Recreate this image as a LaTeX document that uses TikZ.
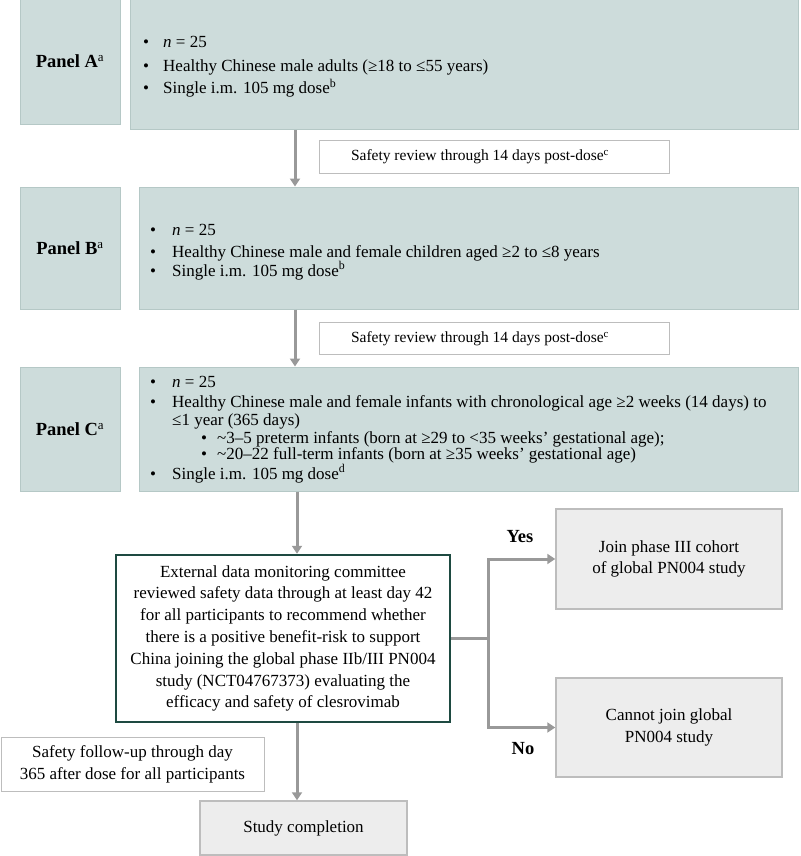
\documentclass[tikz,border=0pt]{standalone}
\usepackage{fontspec}
\setmainfont{Liberation Serif}
\usetikzlibrary{arrows.meta}
\definecolor{panelfill}{HTML}{CDDCDB}
\definecolor{panelline}{HTML}{B5C8C6}
\definecolor{greyfill}{HTML}{EDEDED}
\definecolor{greyline}{HTML}{BDBDBD}
\definecolor{arrowgrey}{HTML}{999999}
\definecolor{dmcline}{HTML}{1E4A41}
\tikzset{
  panel/.style={draw=panelline, fill=panelfill, line width=1pt, inner sep=0pt},
  whitebox/.style={draw=greyline, fill=white, line width=1pt, inner sep=0pt, align=center},
  greybox/.style={draw=greyline, fill=greyfill, line width=1.5pt, inner sep=0pt, align=center},
  dmcbox/.style={draw=dmcline, fill=white, line width=2.5pt, inner sep=0pt, align=center},
  txt/.style={anchor=base west, inner sep=0pt},
  lbl/.style={font=\fontsize{18.5}{21}\selectfont\bfseries},
  arr/.style={draw=arrowgrey, line width=3pt, -{Triangle[width=10pt,length=8pt]}},
  ln/.style={draw=arrowgrey, line width=3pt},
  small/.style={font=\fontsize{15.5}{18}\selectfont},
}
\newcommand{\bul}[1]{\makebox[#1][l]{\textbullet}}
\newcommand{\sups}[1]{\textsuperscript{\mdseries #1}}
\begin{document}
\begin{tikzpicture}[x=1pt,y=-1pt,font=\fontsize{17}{20}\selectfont]
\useasboundingbox (0,0) rectangle (800,856);
% ---------- Panel A
\node[panel, lbl, minimum width=100pt, minimum height=127pt] (pA) at (70,61.5) {Panel A\sups{a}};
\node[panel, minimum width=668pt, minimum height=132pt] (pAc) at (464,64) {};
\node[txt] (a1) at (143,48) {\bul{20pt}\textit{n} = 25};
\node[txt] (a2) at (143,72) {\bul{20pt}Healthy Chinese male adults (≥18 to ≤55 years)};
\node[txt] (a3) at (143,94) {\bul{20pt}Single i.m. 105 mg dose\textsuperscript{b}};
% ---------- Safety 1
\node[whitebox, minimum width=350pt, minimum height=33pt] (s1) at (494,156.5) {};
\node[small] (s1t) at (480,157) {Safety review through 14 days post-dose\textsuperscript{c}};
% ---------- Panel B
\node[panel, lbl, minimum width=100pt, minimum height=122pt] (pB) at (70,248) {Panel B\sups{a}};
\node[panel, minimum width=659pt, minimum height=122pt] (pBc) at (468.5,248) {};
\node[txt] (b1) at (150,235) {\bul{22pt}\textit{n} = 25};
\node[txt] (b2) at (150,257) {\bul{22pt}Healthy Chinese male and female children aged ≥2 to ≤8 years};
\node[txt] (b3) at (150,276) {\bul{22pt}Single i.m. 105 mg dose\textsuperscript{b}};
% ---------- Safety 2
\node[whitebox, minimum width=350pt, minimum height=32pt] (s2) at (494,338) {};
\node[small] (s2t) at (480,338.5) {Safety review through 14 days post-dose\textsuperscript{c}};
% ---------- Panel C
\node[panel, lbl, minimum width=100pt, minimum height=124pt] (pC) at (70,429) {Panel C\sups{a}};
\node[panel, minimum width=659pt, minimum height=124pt] (pCc) at (468.5,429) {};
\node[txt] (c1) at (150,387) {\bul{22pt}\textit{n} = 25};
\node[txt] (c2) at (150,407) {\bul{22pt}Healthy Chinese male and female infants with chronological age ≥2 weeks (14 days) to};
\node[txt] (c3) at (172,425) {≤1 year (365 days)};
\node[txt] (c4) at (201,443) {\bul{16pt}\textasciitilde3–5 preterm infants (born at ≥29 to <35 weeks’ gestational age);};
\node[txt] (c5) at (201,459.5) {\bul{16pt}\textasciitilde20–22 full-term infants (born at ≥35 weeks’ gestational age)};
\node[txt] (c6) at (150,479) {\bul{22pt}Single i.m. 105 mg dose\textsuperscript{d}};
% ---------- DMC box
\node[dmcbox, minimum width=334pt, minimum height=167pt, font=\fontsize{17}{21.8}\selectfont] (dmc) at (283,638.5) {External data monitoring committee\\reviewed safety data through at least day 42\\for all participants to recommend whether\\there is a positive benefit-risk to support\\China joining the global phase IIb/III PN004\\study (NCT04767373) evaluating the\\efficacy and safety of clesrovimab};
% ---------- outcomes
\node[greybox, minimum width=226pt, minimum height=100pt, font=\fontsize{17}{20.5}\selectfont] (yes) at (669,559) {Join phase III cohort\\of global PN004 study};
\node[greybox, minimum width=226pt, minimum height=99pt, font=\fontsize{17}{21.5}\selectfont] (no) at (669,727.5) {Cannot join global\\PN004 study};
\node[lbl] (yeslbl) at (520,537) {Yes};
\node[lbl] (nolbl) at (523,749) {No};
% ---------- follow-up and completion
\node[whitebox, minimum width=263pt, minimum height=54pt, font=\fontsize{17}{22}\selectfont] (fu) at (132.5,764) {Safety follow-up through day\\365 after dose for all participants};
\node[greybox, minimum width=207pt, minimum height=54pt] (done) at (303.5,828) {Study completion};
% ---------- connectors
\coordinate (ax) at (295,0);
\coordinate (cx) at (297,0);
\coordinate (bx) at (488,638.5);
\draw[arr] (pAc.south -| ax) -- (pBc.north -| ax);
\draw[arr] (pBc.south -| ax) -- (pCc.north -| ax);
\draw[arr] (pCc.south -| cx) -- (dmc.north -| cx);
\draw[ln] (dmc.east) -- (bx);
\draw[arr] (bx) |- (yes.west);
\draw[arr] (bx) |- (no.west);
\draw[arr] (dmc.south -| cx) -- (done.north -| cx);
\end{tikzpicture}
\end{document}
